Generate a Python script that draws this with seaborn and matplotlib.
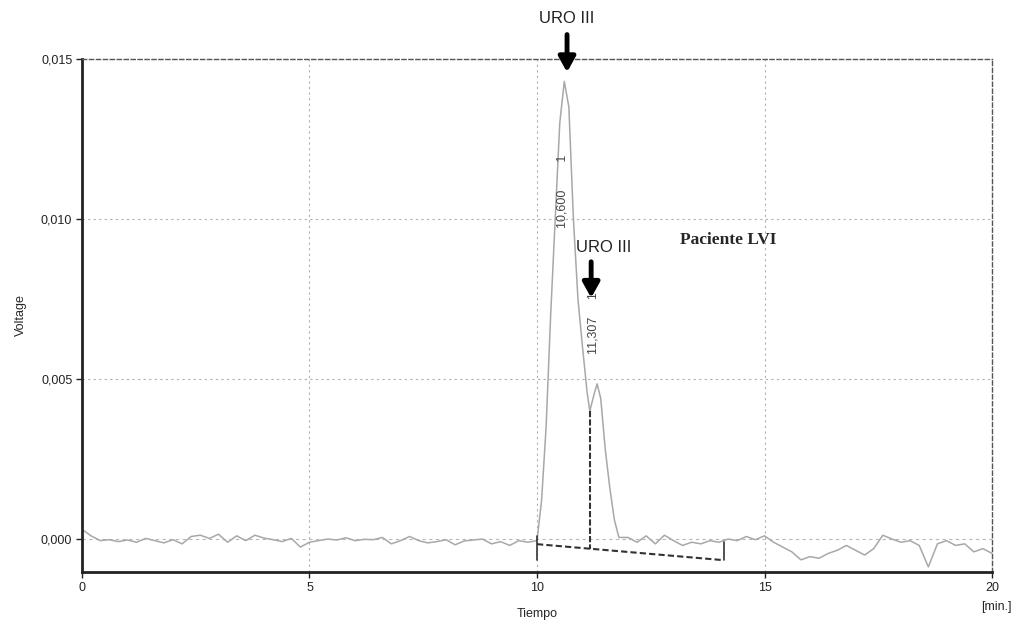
import numpy as np
import pandas as pd
import matplotlib
matplotlib.use("Agg")
import matplotlib.pyplot as plt
import seaborn as sb
from matplotlib.ticker import FuncFormatter

# trace, voltage in mV (x 1e-3 V)
t_left = [0.0, 0.2, 0.4, 0.6, 0.8, 1.0, 1.2, 1.4, 1.6, 1.8, 2.0, 2.2, 2.4, 2.6, 2.8,
          3.0, 3.2, 3.4, 3.6, 3.8, 4.0, 4.2, 4.4, 4.6, 4.8, 5.0, 5.2, 5.4, 5.6, 5.8,
          6.0, 6.2, 6.4, 6.6, 6.8, 7.0, 7.2, 7.4, 7.6, 7.8, 8.0, 8.2, 8.4, 8.6, 8.8,
          9.0, 9.2, 9.4, 9.6, 9.8]
v_left = [0.30, 0.10, -0.05, -0.02, -0.08, -0.03, -0.10, 0.02, -0.05, -0.12, -0.02, -0.15,
          0.08, 0.12, 0.02, 0.15, -0.10, 0.10, -0.05, 0.12, 0.03, -0.02, -0.08, 0.02, -0.25,
          -0.10, -0.05, 0.00, -0.03, 0.04, -0.05, -0.01, -0.02, 0.05, -0.15, -0.05, 0.08,
          -0.05, -0.12, -0.08, -0.02, -0.18, -0.06, -0.03, 0.00, -0.15, -0.08, -0.20, -0.05,
          -0.10]
t_peak = [10.0, 10.1, 10.2, 10.3, 10.4, 10.5, 10.6, 10.7, 10.8, 10.9, 11.0, 11.1, 11.16,
          11.25, 11.32, 11.4, 11.5, 11.6, 11.7, 11.8]
v_peak = [-0.05, 1.2, 3.5, 7.0, 10.0, 13.0, 14.3, 13.5, 10.0, 7.5, 6.0, 4.6, 4.0,
          4.5, 4.85, 4.4, 2.8, 1.6, 0.6, 0.05]
t_right = [12.0, 12.2, 12.4, 12.6, 12.8, 13.0, 13.2, 13.4, 13.6, 13.8, 14.0, 14.2, 14.4,
           14.6, 14.8, 15.0, 15.2, 15.4, 15.6, 15.8, 16.0, 16.2, 16.4, 16.6, 16.8, 17.0,
           17.2, 17.4, 17.6, 17.8, 18.0, 18.2, 18.4, 18.6, 18.8, 19.0, 19.2, 19.4, 19.6,
           19.8, 20.0]
v_right = [0.05, -0.10, 0.10, -0.15, 0.12, -0.05, -0.20, -0.10, -0.15, -0.05, -0.10, 0.00,
           -0.05, 0.08, -0.02, 0.10, -0.10, -0.25, -0.40, -0.65, -0.55, -0.60, -0.45, -0.35,
           -0.20, -0.35, -0.50, -0.30, 0.12, 0.00, -0.10, -0.05, -0.20, -0.87, -0.15, -0.05,
           -0.20, -0.15, -0.40, -0.30, -0.45]

# integration baseline and drop line
base_t = [10.0, 14.1]
base_v = [-0.16, -0.66]
drop_t = 11.16
drop_top = 4.0

peak_labels = ["10,600        1", "11,307     1"]
peak_label_t = [10.55, 11.25]
peak_label_v = [10.85, 6.75]
arrow_t = [10.66, 11.19]
arrow_from = [15.85, 8.75]
arrow_to = [14.5, 7.45]
arrow_text_t = [10.66, 11.47]
arrow_text_v = [16.25, 9.1]

def main():
    sb.set_style("white")
    plt.rcParams["font.family"] = ["Liberation Sans", "DejaVu Sans"]
    t = t_left + t_peak + t_right
    v = [x / 1000 for x in v_left + v_peak + v_right]
    data = pd.DataFrame({"Tiempo": t, "Voltage": v})

    fig = plt.figure(figsize=(10.16, 6.35), dpi=100)
    ax = fig.add_axes([0.0807, 0.0992, 0.8957, 0.8079])
    sb.lineplot(data=data, x="Tiempo", y="Voltage", sort=False, estimator=None,
                color="#a8a8a8", linewidth=1.1, ax=ax)

    ax.set_xlim(0, 20)
    ax.set_ylim(-0.00103, 0.015)
    ax.set_xticks([0, 5, 10, 15, 20])
    ax.set_yticks([0.0, 0.005, 0.010, 0.015])
    ax.yaxis.set_major_formatter(FuncFormatter(lambda y, p: ("%.3f" % y).replace(".", ",")))
    ax.tick_params(axis="both", direction="out", length=4, width=1, labelsize=9,
                   colors="#222222", left=True, bottom=True, pad=3)
    for x in [5, 10, 15]:
        ax.axvline(x, color="#b0b0b0", linestyle=(0, (2, 3)), linewidth=0.8, zorder=0)
    for y in [0.005, 0.010]:
        ax.axhline(y, color="#b0b0b0", linestyle=(0, (2, 3)), linewidth=0.8, zorder=0)
    ax.axhline(0.0, color="#b8b8b8", linestyle=(0, (3, 3)), linewidth=0.8, zorder=0)

    for side in ["left", "bottom"]:
        ax.spines[side].set_linewidth(2)
        ax.spines[side].set_color("#222222")
    for side in ["top", "right"]:
        ax.spines[side].set_linestyle((0, (3, 2)))
        ax.spines[side].set_linewidth(1)
        ax.spines[side].set_color("#555555")

    ax.set_xlabel("Tiempo", fontsize=9, labelpad=10)
    ax.set_ylabel("Voltage", fontsize=9, labelpad=10)
    fig.text(1012 / 1016, 1 - 607 / 635, "[min.]", fontsize=9, ha="right", va="center")

    # baseline
    bv = [x / 1000 for x in base_v]
    ax.plot(base_t, bv, color="#333333", linestyle=(0, (3, 1.5)), linewidth=1.5)
    ax.plot([base_t[0], base_t[0]], [0.0001, -0.00065], color="#333333", linewidth=1.2)
    ax.plot([base_t[1], base_t[1]], [-0.00008, bv[1]], color="#333333", linewidth=1.2)
    drop_base = bv[0] + (bv[1] - bv[0]) * (drop_t - base_t[0]) / (base_t[1] - base_t[0])
    ax.plot([drop_t, drop_t], [drop_top / 1000, drop_base], color="#333333",
            linestyle=(0, (3, 1)), linewidth=1.5)

    for lab, x, y in zip(peak_labels, peak_label_t, peak_label_v):
        ax.text(x, y / 1000, lab, rotation=90, fontsize=9, color="#444444",
                ha="center", va="center")
    for x, y0, y1, tx, ty in zip(arrow_t, arrow_from, arrow_to, arrow_text_t, arrow_text_v):
        ax.annotate("", xy=(x, y1 / 1000), xytext=(x, y0 / 1000),
                    arrowprops=dict(arrowstyle="-|>,head_length=0.9,head_width=0.5",
                                    color="black", lw=3.5), annotation_clip=False)
        ax.text(tx, ty / 1000, "URO III", fontsize=12, ha="center", va="center",
                color="#222222", clip_on=False)

    ax.text(14.2, 0.00934, "Paciente LVI", family=["Liberation Serif", "DejaVu Serif"],
            fontweight="bold", fontsize=12.5, ha="center", va="center")

    plt.savefig("out.png", dpi=100)

if __name__ == "__main__":
    main()
